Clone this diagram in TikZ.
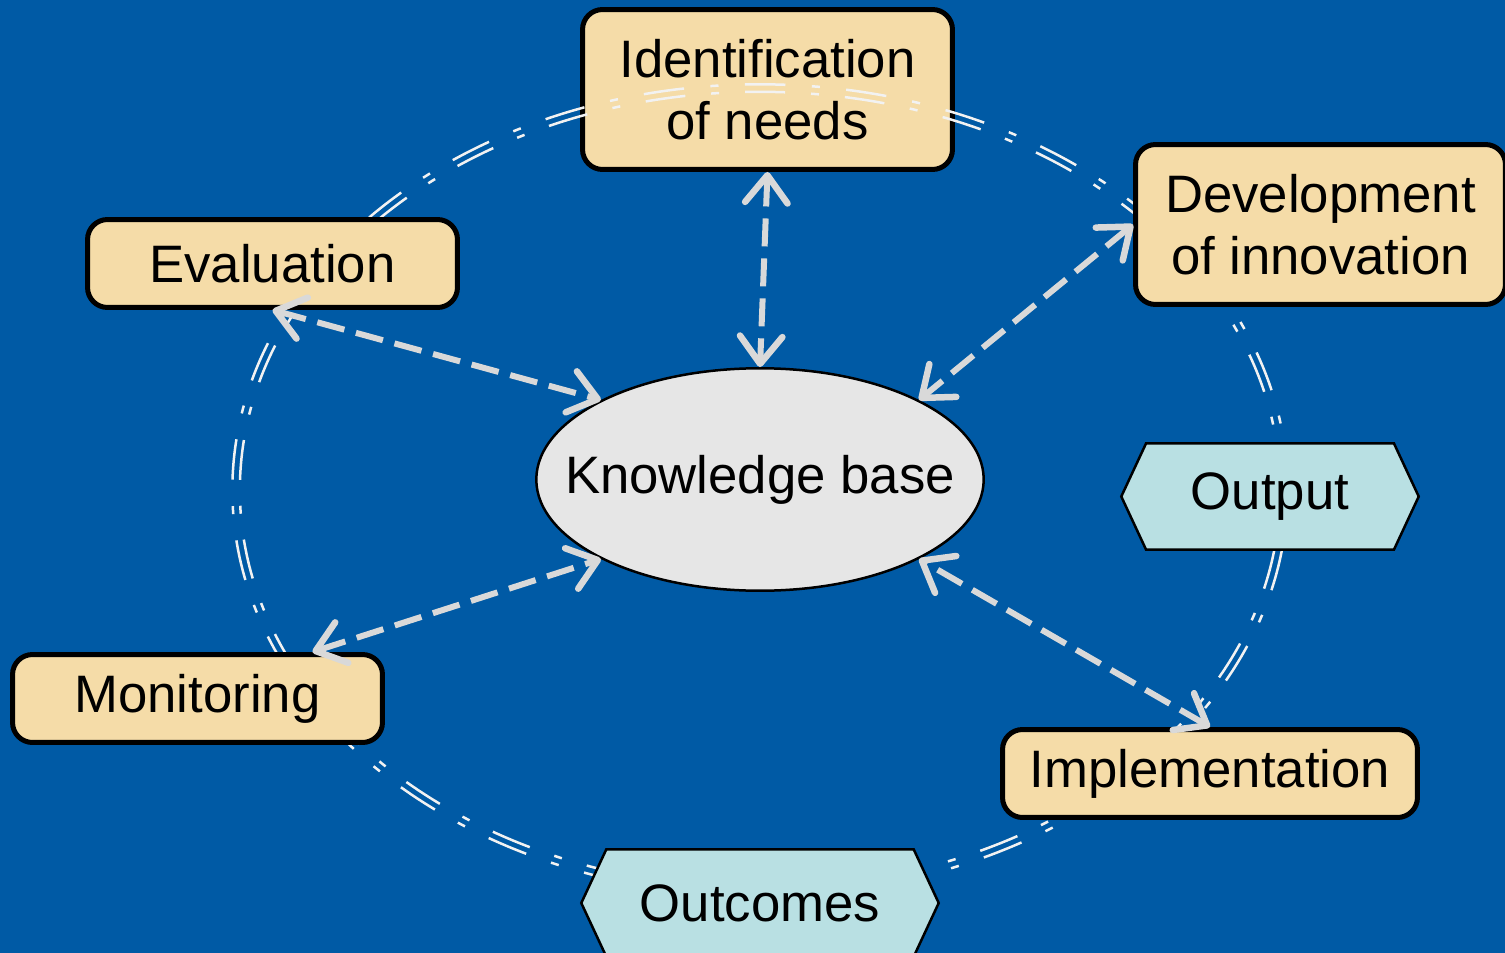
\documentclass[tikz,border=0pt]{standalone}
\usepackage{fontspec}
\setmainfont{Liberation Sans}
\usetikzlibrary{arrows.meta,shapes.geometric,shapes.symbols}

\definecolor{bgblue}{RGB}{0,90,165}
\definecolor{stagefill}{RGB}{245,220,168}
\definecolor{resultfill}{RGB}{185,224,227}
\definecolor{kbfill}{RGB}{230,230,230}
\definecolor{linkgray}{RGB}{217,217,217}
\definecolor{loopwhite}{RGB}{242,242,242}

\begin{document}
\begin{tikzpicture}[x=0.02cm, y=-0.02cm,
    font=\fontsize{30}{35}\selectfont,
    stagebox/.style={draw=black, line width=0.1cm, fill=stagefill, rounded corners=0.4cm,
        minimum width=7.4cm, align=center, inner sep=0pt},
    resultbox/.style={shape=signal, signal to=west and east, signal pointer angle=130,
        draw=black, line width=0.05cm, fill=resultfill, inner sep=0pt, minimum height=2.13cm},
    linktip/.tip={Straight Barb[length=0.55cm,width=0.85cm,round,line width=0.13cm]},
    link/.style={draw=linkgray, line width=0.12cm, dash pattern=on 0.56cm off 0.24cm,
        linktip-linktip},
    loopline/.style={draw=loopwhite, line width=0.05cm}
]
    % Background
    \fill[bgblue, use as bounding box] (0,0) rectangle (1505,953);

    % First stage, lies under the cycle line
    \node[stagebox, minimum height=3.2cm] (needs) at (767.5,89.5) {Identification\\of needs};

    % Cycle (two thin dash-dot ellipses)
    \draw[loopline, dash pattern=on 0.8125cm off 0.5281cm on 0.1625cm off 0.5281cm]
        (760,490) ellipse [x radius=10.555cm, y radius=8.115cm];
    \draw[loopline, dash pattern=on 0.7995cm off 0.5197cm on 0.1599cm off 0.5197cm]
        (760,490) ellipse [x radius=10.405cm, y radius=7.965cm];

    % Other stages
    \node[stagebox, minimum height=3.2cm] (innov) at (1320.5,224.5) {Development\\of innovation};
    \node[stagebox, minimum height=1.76cm] (eval) at (272.5,263.5) {Evaluation};
    \node[stagebox, minimum height=1.76cm] (monit) at (197.5,698.5) {Monitoring};
    \node[stagebox, minimum height=1.76cm, minimum width=8.3cm] (impl) at (1210,773.5) {Implementation};

    % Results
    \node[resultbox, minimum width=5.95cm] (output) at (1270,496.5) {Output};
    \node[resultbox, minimum width=7.15cm, minimum height=2.15cm] (outcomes) at (760,903) {Outcomes};

    % Knowledge base
    \node[ellipse, draw=black, line width=0.05cm, fill=kbfill, minimum width=8.95cm,
        minimum height=4.45cm, inner xsep=-0.75cm, inner ysep=0.4cm] (kb) at (760,479.5) {Knowledge base};

    % Links to the knowledge base
    \draw[link] (needs.south) -- (kb.north);
    \draw[link] (innov.west) -- (kb.north east);
    \draw[link] (eval.south) -- (kb.north west);
    \draw[link] ([xshift=2.3cm]monit.north) -- (kb.south west);
    \draw[link] (impl.north) -- (kb.south east);
\end{tikzpicture}
\end{document}
